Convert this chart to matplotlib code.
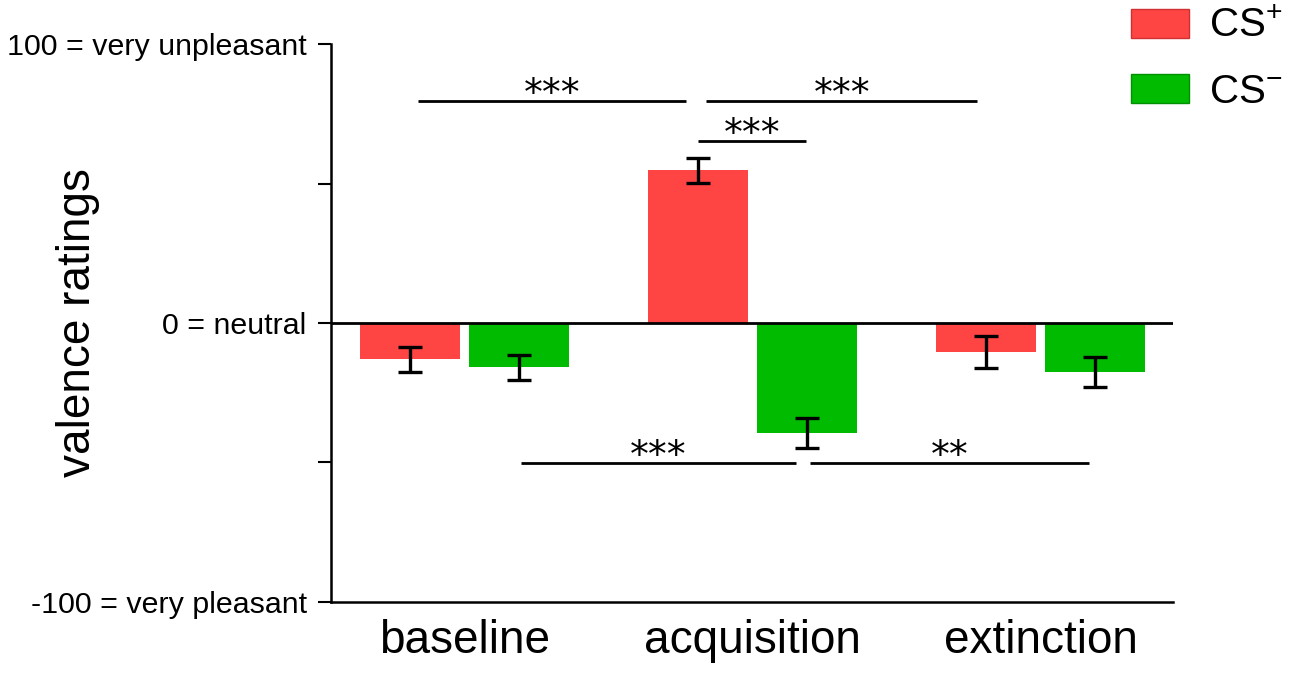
import matplotlib
matplotlib.use("Agg")
import matplotlib.pyplot as plt
from matplotlib.patches import Patch
import numpy as np

plt.rcParams['font.family'] = ['Liberation Sans', 'DejaVu Sans']
plt.rcParams['mathtext.fontset'] = 'custom'
plt.rcParams['mathtext.rm'] = 'Liberation Sans'
plt.rcParams['mathtext.it'] = 'Liberation Sans'

# ---- data ----
categories = ['baseline', 'acquisition', 'extinction']
cs_plus = [-13.0, 54.8, -10.4]
cs_plus_err = [4.5, 4.5, 5.8]
cs_minus = [-15.9, -39.4, -17.6]
cs_minus_err = [4.4, 5.3, 5.5]

yticks = [-100, -50, 0, 50, 100]
ytick_labels = ['-100 = very pleasant', '', '0 = neutral', '', '100 = very unpleasant']

sig_x_start = [-0.16, 0.84, 0.81, 0.195, 1.2]
sig_x_end = [0.77, 1.78, 1.186, 1.15, 2.17]
sig_y = [79.6, 79.6, 65.2, -50.2, -50.2]
sig_label = ['***', '***', '***', '***', '**']

red = '#FF4444'
green = '#00BB00'

fig = plt.figure(figsize=(13, 6.76), dpi=100)
ax = fig.add_axes([0.2546, 0.1095, 0.6477, 0.8254])

x = np.arange(len(categories))
w = 0.347
off = 0.189
ax.bar(x - off, cs_plus, w, color=red, edgecolor='none', zorder=2)
ax.bar(x + off, cs_minus, w, color=green, edgecolor='none', zorder=2)
ax.errorbar(x - off, cs_plus, yerr=cs_plus_err, fmt='none', ecolor='black',
            elinewidth=2.4, capsize=8.5, capthick=2.4, zorder=3)
ax.errorbar(x + off, cs_minus, yerr=cs_minus_err, fmt='none', ecolor='black',
            elinewidth=2.4, capsize=8.5, capthick=2.4, zorder=3)

ax.axhline(0, color='black', lw=2, zorder=4)

for xs, xe, yy, lab in zip(sig_x_start, sig_x_end, sig_y, sig_label):
    ax.plot([xs, xe], [yy, yy], color='black', lw=2, solid_capstyle='butt', zorder=4)
    ax.text((xs + xe) / 2, yy - 4.3, lab, ha='center', va='bottom', fontsize=27,
            family='DejaVu Sans')

ax.set_xlim(-0.463, 2.46)
ax.set_ylim(-100, 100)
ax.set_yticks(yticks)
ax.set_yticklabels(ytick_labels, fontsize=21.9)
ax.set_xticks(x)
ax.set_xticklabels(categories, fontsize=33)
ax.tick_params(axis='x', length=0, pad=12)
ax.tick_params(axis='y', length=9.5, width=1.5, pad=8)
ax.set_ylabel('valence ratings', fontsize=33)
ax.yaxis.set_label_coords(-0.274, 0.5)

for s in ['top', 'right']:
    ax.spines[s].set_visible(False)
for s in ['left', 'bottom']:
    ax.spines[s].set_linewidth(1.8)

handles = [Patch(facecolor=red, edgecolor='#D03030', lw=1),
           Patch(facecolor=green, edgecolor='#009000', lw=1)]
fig.legend(handles, [r'CS$^{+}$', r'CS$^{-}$'], loc='upper left',
           bbox_to_anchor=(0.862, 1.004), bbox_transform=fig.transFigure,
           frameon=False, fontsize=29, handlelength=1.45, handleheight=0.72,
           handletextpad=0.5, labelspacing=0.68, borderaxespad=0, borderpad=0.25)

fig.savefig('out.png', dpi=100)
